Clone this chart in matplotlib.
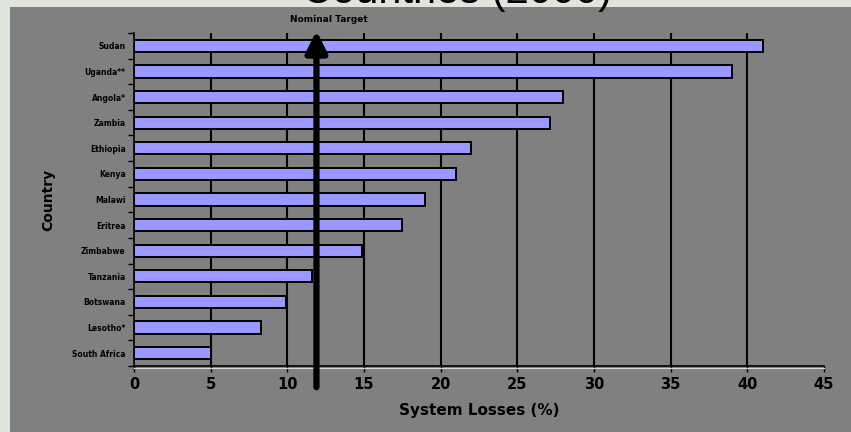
import matplotlib.pyplot as plt
from matplotlib.patches import Rectangle

countries = ["Sudan", "Uganda**", "Angola*", "Zambia", "Ethiopia", "Kenya", "Malawi",
             "Eritrea", "Zimbabwe", "Tanzania", "Botswana", "Lesotho*", "South Africa"]
losses = [41.0, 39.0, 28.0, 27.1, 22.0, 21.0, 19.0, 17.5, 14.9, 11.6, 9.9, 8.3, 5.0]
x_ticks = [0, 5, 10, 15, 20, 25, 30, 35, 40, 45]
target = 11.9

plt.rcParams["font.family"] = ["Liberation Sans", "DejaVu Sans"]
heavy = ["DejaVu Sans"]

fig = plt.figure(figsize=(8.51, 4.32), dpi=100)
fig.patch.set_facecolor("#dfe5dc")
fig.patches.append(Rectangle((10 / 851, 0), 1, 1 - 7 / 432, transform=fig.transFigure,
                             facecolor="#808080", edgecolor="none", zorder=-1))
fig.text(0.537, 1 - 3 / 432, "Countries (2000)", ha="center", va="baseline",
         fontsize=30, color="black")

ax = fig.add_axes([134 / 851, 1 - 366 / 432, 690 / 851, 333 / 432])
ax.set_facecolor("#808080")

ypos = list(range(len(countries)))
ax.barh(ypos, losses, height=0.48, color="#9999ff", edgecolor="black", linewidth=1.4, zorder=3)

ax.set_xlim(0, 45)
ax.set_ylim(len(countries) - 0.5, -0.5)
ax.set_xticks(x_ticks)
ax.set_xticklabels([str(t) for t in x_ticks], fontsize=10.5, fontweight="bold", family=heavy)
ax.set_yticks(ypos)
ax.set_yticklabels(countries, fontsize=5.5, fontweight="bold", family=heavy)
ax.set_yticks([y + 0.5 for y in range(-1, len(countries))], minor=True)
ax.tick_params(axis="y", which="major", length=0, pad=6)
ax.tick_params(axis="y", which="minor", length=4, width=1, direction="out")
ax.tick_params(axis="x", length=4, width=1, pad=4)

for x in x_ticks[1:-1]:
    ax.axvline(x, color="black", lw=1.5, zorder=1)

for side in ["top", "right"]:
    ax.spines[side].set_visible(False)
ax.spines["left"].set_linewidth(1.2)
ax.spines["bottom"].set_linewidth(1.2)
ax.plot([0, 1], [-0.006, -0.006], transform=ax.transAxes, color="#d8d8d8",
        lw=0.8, clip_on=False)

ax.annotate("", xy=(target, 1.015), xytext=(target, -0.072),
            xycoords=("data", "axes fraction"), textcoords=("data", "axes fraction"),
            arrowprops=dict(arrowstyle="-|>", lw=4.5, color="black", mutation_scale=32),
            annotation_clip=False, zorder=5)
ax.text(12.7, 1.04, "Nominal Target", transform=ax.get_xaxis_transform(),
        ha="center", va="center", fontsize=6.5, fontweight="bold", family=heavy)

ax.set_xlabel("System Losses (%)", fontsize=11, fontweight="bold", family=heavy, labelpad=8)
ax.set_ylabel("Country", fontsize=10, fontweight="bold", family=heavy, labelpad=12)

fig.savefig("out.png", dpi=100, facecolor=fig.get_facecolor())
